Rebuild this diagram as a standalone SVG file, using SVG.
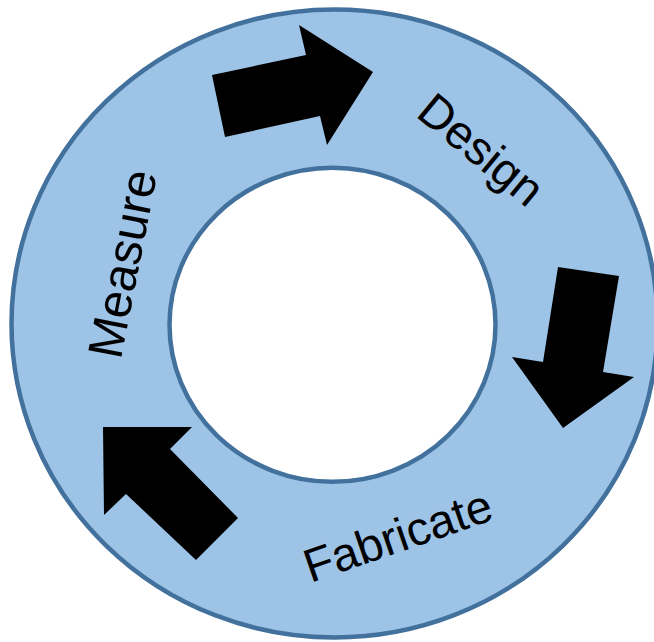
<svg xmlns="http://www.w3.org/2000/svg" width="654" height="642" viewBox="0 0 654 642">
<style>
.ring{fill:#9DC3E6;stroke:#41719C;stroke-width:4.5}
.hole{fill:#FFFFFF;stroke:#41719C;stroke-width:4.5}
.arr{fill:#000000}
.lbl{font-family:"Liberation Sans",Arial,sans-serif;font-size:47px;fill:#000000;text-anchor:middle}
</style>
<rect width="654" height="642" fill="#FFFFFF"/>
<g id="ring">
<ellipse class="ring" cx="334.5" cy="323.5" rx="323" ry="314"/>
<ellipse class="hole" cx="332.5" cy="324.8" rx="163" ry="157"/>
</g>
<g id="connectors">
<polygon class="arr" points="212,75 306,55 299,25 373,72 327,145 320,116 225,137"/>
<polygon class="arr" points="558,267 619,276 603,372 634,377 563,428 512,357 543,362"/>
<polygon class="arr" points="103,427 192,427 170,449 238,518 196,560 126,494 104,515"/>
</g>
<g id="design"><text class="lbl" transform="translate(471,162) rotate(39.5)">Design</text></g>
<g id="fabricate"><text class="lbl" transform="translate(403,551) rotate(-19)">Fabricate</text></g>
<g id="measure"><text class="lbl" style="font-size:49px" transform="translate(139,267) rotate(-79)">Measure</text></g>
</svg>
